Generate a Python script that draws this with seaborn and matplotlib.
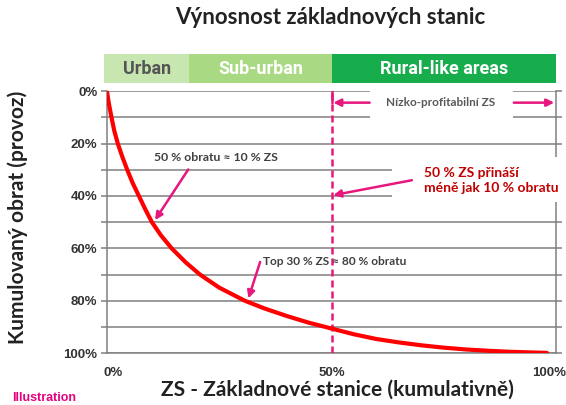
import matplotlib
matplotlib.use("Agg")
import matplotlib.pyplot as plt
import matplotlib.transforms as mtransforms
from matplotlib.patches import Rectangle
import pandas as pd
import seaborn as sns

# cumulative share of base stations (x, %) vs. cumulative turnover (y, %)
stations_pct = [0, 0.2, 0.5, 1, 1.6, 2.4, 3.4, 4.5, 5.7, 7.1, 8.5, 10, 12, 14.4, 17.5,
                20.7, 25, 30.7, 35, 40, 45, 50, 55, 60, 65, 70, 75, 80, 85, 90, 94, 98]
turnover_pct = [0, 2.5, 5.5, 10, 15, 20, 25, 30, 35, 40, 45, 50, 55, 60, 65.3,
                70, 75, 80, 82.9, 85.8, 88.4, 90.6, 92.8, 94.6, 95.9, 97, 97.9, 98.6, 99.1,
                99.5, 99.7, 99.9]

zones = ["Urban", "Sub-urban", "Rural-like areas"]
zone_edges = [-0.7, 18.3, 50, 100]
zone_colors = ["#c8e6b0", "#a9d982", "#17ad4c"]
zone_text = ["#555555", "white", "white"]

y_ticks = [0, 20, 40, 60, 80, 100]
x_ticks = [0, 50, 100]

df = pd.DataFrame({"zs": stations_pct, "obrat": turnover_pct})

sns.set_style("white")
plt.rcParams["font.family"] = ["Lato", "DejaVu Sans"]

GRID = "#808080"
MAG = "#e8177d"
FONT_TXT = ["Lato", "DejaVu Sans"]

fig = plt.figure(figsize=(5.66, 4.05), dpi=100)
ax = fig.add_axes([107 / 566, 0.128, 449 / 566, 0.647])

ax.set_axisbelow(True)
sns.lineplot(data=df, x="zs", y="obrat", color="#ff0000", lw=3, ax=ax, zorder=5)

ax.set_xlim(0, 100)
ax.set_ylim(100, 0)

ax.set_yticks(y_ticks)
ax.set_yticklabels([f"{v}%" for v in y_ticks])
ax.set_yticks([10, 30, 50, 70, 90], minor=True)
ax.set_xticks(x_ticks)
ax.set_xticklabels([f"{v}%" for v in x_ticks])
ax.set_xticks(range(10, 100, 10), minor=True)
ax.grid(which="both", axis="y", color=GRID, lw=1.1)
ax.yaxis.set_ticks_position("both")
ax.tick_params(axis="y", which="both", length=4, color=GRID, width=1.1, pad=3)
ax.tick_params(axis="x", which="both", length=4, color=GRID, width=1.1, pad=6)
for lab in ax.get_xticklabels() + ax.get_yticklabels():
    lab.set_fontfamily("Liberation Sans")
    lab.set_fontweight("bold")
    lab.set_fontsize(9.5)
    lab.set_color("#333333")
# end labels sit a little inside the axis ends
xl = ax.get_xticklabels()
xl[0].set_transform(xl[0].get_transform() + mtransforms.ScaledTranslation(6 / 100, 0, fig.dpi_scale_trans))
xl[-1].set_transform(xl[-1].get_transform() + mtransforms.ScaledTranslation(-7 / 100, 0, fig.dpi_scale_trans))

for s in ["left", "right", "bottom"]:
    ax.spines[s].set_color(GRID)
    ax.spines[s].set_linewidth(1.1)
ax.spines["top"].set_visible(False)

ax.set_xlabel("ZS - Základnové stanice (kumulativně)", fontsize=15, fontweight="bold",
              color="#222222", family=FONT_TXT)
ax.xaxis.set_label_coords(0.514, -0.1)
ax.set_ylabel("Kumulovaný obrat (provoz)", fontsize=15, fontweight="bold",
              color="#222222", family=FONT_TXT)
ax.yaxis.set_label_coords(-0.175, 0.52)

# dashed split at 50 % of stations
ax.axvline(50, color=MAG, lw=1.8, ls=(0, (2.8, 1.6)), zorder=4)

# white boxes hiding grid lines behind the texts
ax.add_patch(Rectangle((58.5, -1), 31.9, 12, facecolor="white", edgecolor="none",
                       zorder=3, clip_on=False))
ax.add_patch(Rectangle((63.4, 25.3), 40, 17.2, facecolor="white", edgecolor="none",
                       zorder=3, clip_on=False))

arrow = dict(arrowstyle="-|>", color=MAG, lw=1.8, mutation_scale=11, shrinkA=0, shrinkB=0)

ax.plot([50, 50], [0, 4.4], color=MAG, lw=1.8, zorder=4)
ax.annotate("", xy=(50.4, 4.4), xytext=(58.5, 4.4), arrowprops=arrow, zorder=6)
ax.annotate("", xy=(99.6, 4.4), xytext=(90.6, 4.4), arrowprops=arrow, zorder=6)
ax.text(74.2, 4.2, "Nízko-profitabilní ZS", ha="center", va="center", fontsize=8.5,
        fontweight="bold", color="#595959", family=FONT_TXT, zorder=6)

ax.annotate("", xy=(10.7, 49.2), xytext=(18.1, 29.9), arrowprops=arrow, zorder=6)
ax.text(24.3, 25.5, "50 % obratu ≈ 10 % ZS", ha="center", va="center", fontsize=8.8,
        fontweight="bold", color="#404040", family=FONT_TXT, zorder=6)

ax.annotate("", xy=(31.5, 79.1), xytext=(34.1, 65.2), arrowprops=arrow, zorder=6)
ax.text(34.8, 65.1, "Top 30 % ZS ≈ 80 % obratu", ha="left", va="center", fontsize=8.6,
        fontweight="bold", color="#404040", family=FONT_TXT, zorder=6)

ax.annotate("", xy=(50.4, 39.7), xytext=(67.9, 34), arrowprops=arrow, zorder=6)
ax.text(70.6, 34.2, "50 % ZS přináší\nméně jak 10 % obratu", ha="left", va="center",
        fontsize=10, fontweight="bold", color="#c00000", family=FONT_TXT,
        linespacing=1.3, zorder=6, clip_on=False)

# zone banner above the plot
bax = fig.add_axes([104 / 566, 0.795, 452 / 566, 0.072])
bax.set_xlim(zone_edges[0], zone_edges[-1])
bax.set_ylim(0, 1)
for i, name in enumerate(zones):
    bax.axvspan(zone_edges[i], zone_edges[i + 1], color=zone_colors[i], lw=0)
    bax.text((zone_edges[i] + zone_edges[i + 1]) / 2, 0.48, name, ha="center", va="center",
             fontsize=13, fontweight="bold", color=zone_text[i], family="Roboto")
bax.axis("off")

fig.text(0.583, 1 - 18 / 405, "Výnosnost základnových stanic", ha="center", va="center",
         fontsize=16, fontweight="bold", color="#222222", family=FONT_TXT)
fig.text(12 / 566, 1 - 398 / 405, "Illustration", ha="left", va="center", fontsize=9,
         fontweight="bold", color="#e5007e", family="Liberation Sans")

fig.savefig("out.png", dpi=100)
